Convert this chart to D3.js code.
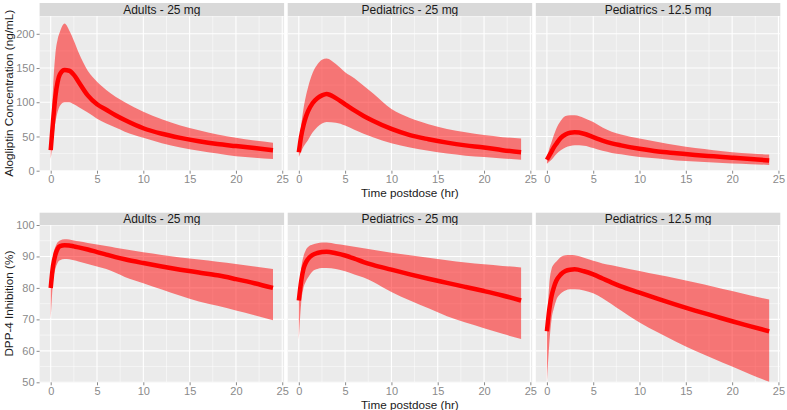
<!DOCTYPE html>
<html><head><meta charset="utf-8">
<script src="https://cdn.jsdelivr.net/npm/d3@7"></script>
<style>body{margin:0;background:#fff}svg{display:block}</style>
</head><body>
<svg id="c" width="787" height="410"></svg>
<script>
const times = [0,0.25,0.5,0.75,1,1.5,2,2.5,3,4,5,6,7,8,10,12,14,16,18,20,22,24];
const panelTitles = ["Adults - 25 mg","Pediatrics - 25 mg","Pediatrics - 12.5 mg"];
const xTicks = [0,5,10,15,20,25];
const concTicks = [0,50,100,150,200];
const inhTicks = [50,60,70,80,90,100];

// Alogliptin concentration (ng/mL)
const concAdult25Med = [30,72,108,130,141,147,146,140,130,110,97,89,81,74,62,54,48,43,39,36,33,30];
const concAdult25Hi  = [35,120,170,192,203,215,205,190,173,146,130,118,108,100,86,75,66,59,53,48,44,41];
const concAdult25Lo  = [17,45,70,86,95,100,100,97,93,85,76,69,63,57,48,40,34,29,25,21,19,17];
const concPed25Med = [27,50,66,78,87,99,106,110,112,106,97,88,80,73,61,52,46,41,37,34,30,27];
const concPed25Hi  = [30,65,90,108,122,143,155,162,164,156,144,135,124,113,90,77,68,61,56,52,49,47];
const concPed25Lo  = [20,28,35,40,45,56,64,69,71,70,66,60,54,49,40,34,29,25,22,20,18,16];
const concPed125Med = [16,22,28,34,39,48,53,55.5,56,54,49,44,40,37,32,28,25.5,23,21,19,17,15];
const concPed125Hi  = [18,32,42,52,61,73,80,81,81,77,71,63,57,53,47,42,37,33,30,27,25,23.5];
const concPed125Lo  = [10,13,16,20,24,30,34,36,37,36.5,33,29,26,24,20,18,15,13.5,12,10.5,9.5,8.5];

// DPP-4 inhibition (%)
const inhAdult25Med = [80,87,90.5,92.5,93.3,93.6,93.5,93.2,92.9,92.2,91.4,90.6,89.8,89.1,87.9,86.8,85.8,84.9,84,82.8,81.5,80];
const inhAdult25Hi  = [81,90,93,94.5,95.1,95.5,95.4,95.1,94.8,94.3,93.8,93.3,92.8,92.3,91.3,90.5,89.7,89,88.3,87.6,86.8,86];
const inhAdult25Lo  = [70,82,86,88,88.8,89.2,89.1,88.8,88.4,87.6,86.8,86,84.8,83.5,81.5,79.5,77.5,75.7,74.3,72.8,71.3,69.7];
const inhPed25Med = [76,82,86,88,89.2,90.5,91.1,91.4,91.5,91,90.3,89.3,88.2,87.3,85.8,84.3,82.9,81.6,80.3,79,77.6,76];
const inhPed25Hi  = [77,86,90,92,93,93.8,94.2,94.4,94.4,94,93.6,93.1,92.6,92.1,91.2,90.4,89.6,88.8,88.1,87.5,87,86.5];
const inhPed25Lo  = [63.5,75,80,82,83.3,85.3,86,86.3,86.3,86,85.3,84.3,83.3,82,78.7,76,73.5,71,69,67.2,65.4,63.8];
const inhPed125Med = [66.2,73,77.4,80.2,82.2,84.3,85.4,85.8,85.9,85.3,84.3,83,81.7,80.5,78.5,76.5,74.6,72.8,71.1,69.4,67.8,66.2];
const inhPed125Hi  = [68,81,86,87.5,88.3,89.8,90.4,90.5,90.4,89.6,88.6,87.8,87.2,86.6,85.4,84.2,83,81.7,80.4,79,77.6,76.3];
const inhPed125Lo  = [50,62,70,73.5,76,78.2,79.2,79.6,79.6,79.2,78.3,76.7,74.8,72.8,69,65.8,62.8,60,57.5,55,52.5,50.2];

const rows = [
  {title:"Alogliptin Concentration (ng/mL)", domain:[0,226], ticks:concTicks, minor:[25,75,125,175,225],
   stripTop:3, top:16, bottom:170.7,
   series:[[concAdult25Med,concAdult25Hi,concAdult25Lo],[concPed25Med,concPed25Hi,concPed25Lo],[concPed125Med,concPed125Hi,concPed125Lo]]},
  {title:"DPP-4 Inhibition (%)", domain:[50,100], ticks:inhTicks, minor:[55,65,75,85,95],
   stripTop:212.7, top:225, bottom:382.3,
   series:[[inhAdult25Med,inhAdult25Hi,inhAdult25Lo],[inhPed25Med,inhPed25Hi,inhPed25Lo],[inhPed125Med,inhPed125Hi,inhPed125Lo]]}
];

const svg = d3.select("#c");
const font = "'Liberation Sans', Arial, sans-serif";
const left0 = 39.6, pw = 244.5, gap = 3.6;
const xMinor = [2.5,7.5,12.5,17.5,22.5];

rows.forEach((row, ri) => {
  const y = d3.scaleLinear().domain(row.domain).range([row.bottom, row.top]);
  row.series.forEach((s, pi) => {
    const x0 = left0 + pi*(pw+gap);
    const x = d3.scaleLinear().domain([-1.2, 25.2]).range([x0, x0+pw]);
    const g = svg.append("g");
    g.append("rect").attr("x",x0).attr("y",row.stripTop).attr("width",pw).attr("height",row.top-row.stripTop).attr("fill","#D9D9D9");
    g.append("text").attr("x",x0+pw/2).attr("y",(row.stripTop+row.top)/2).attr("dy","0.36em")
      .attr("text-anchor","middle").attr("font-family",font).attr("font-size",12).attr("fill","#1A1A1A").text(panelTitles[pi]);
    g.append("rect").attr("x",x0).attr("y",row.top).attr("width",pw).attr("height",row.bottom-row.top).attr("fill","#EBEBEB");
    const clipId = `clip${ri}${pi}`;
    svg.append("clipPath").attr("id",clipId).append("rect").attr("x",x0).attr("y",row.top).attr("width",pw).attr("height",row.bottom-row.top);
    const pg = g.append("g").attr("clip-path",`url(#${clipId})`);
    xMinor.forEach(v => pg.append("line").attr("x1",x(v)).attr("x2",x(v)).attr("y1",row.top).attr("y2",row.bottom).attr("stroke","#fff").attr("stroke-width",0.5));
    row.minor.forEach(v => pg.append("line").attr("x1",x0).attr("x2",x0+pw).attr("y1",y(v)).attr("y2",y(v)).attr("stroke","#fff").attr("stroke-width",0.5));
    xTicks.forEach(v => pg.append("line").attr("x1",x(v)).attr("x2",x(v)).attr("y1",row.top).attr("y2",row.bottom).attr("stroke","#fff").attr("stroke-width",1.1));
    row.ticks.forEach(v => pg.append("line").attr("x1",x0).attr("x2",x0+pw).attr("y1",y(v)).attr("y2",y(v)).attr("stroke","#fff").attr("stroke-width",1.1));
    const data = times.map((t,i)=>({t, m:s[0][i], hi:s[1][i], lo:s[2][i]}));
    const area = d3.area().x(d=>x(d.t)).y0(d=>y(d.lo)).y1(d=>y(d.hi)).curve(d3.curveMonotoneX);
    pg.append("path").attr("d",area(data)).attr("fill","#FF0000").attr("fill-opacity",0.5);
    const line = d3.line().x(d=>x(d.t)).y(d=>y(d.m)).curve(d3.curveMonotoneX);
    pg.append("path").attr("d",line(data)).attr("fill","none").attr("stroke","#FF0000").attr("stroke-width",4.5).attr("stroke-linejoin","round");
    const xa = g.append("g").attr("transform",`translate(0,${row.bottom})`)
      .call(d3.axisBottom(x).tickValues(xTicks).tickSize(3).tickPadding(2).tickFormat(d3.format("d")));
    xa.select(".domain").remove();
    xa.selectAll("line").attr("stroke","#8A8A8A");
    xa.selectAll("text").attr("font-family",font).attr("font-size",11).attr("fill","#8A8A8A");
    if (pi === 0) {
      const ya = g.append("g").attr("transform",`translate(${x0},0)`)
        .call(d3.axisLeft(y).tickValues(row.ticks).tickSize(3).tickPadding(2).tickFormat(d3.format("d")));
      ya.select(".domain").remove();
      ya.selectAll("line").attr("stroke","#8A8A8A");
      ya.selectAll("text").attr("font-family",font).attr("font-size",11).attr("fill","#8A8A8A");
    }
  });
  const cy = (row.top+row.bottom)/2;
  svg.append("text").attr("transform",`translate(9,${cy}) rotate(-90)`).attr("dy","0.36em")
    .attr("text-anchor","middle").attr("font-family",font).attr("font-size",11.7).attr("fill","#1A1A1A").text(row.title);
  svg.append("text").attr("x",(left0 + left0+3*pw+2*gap)/2).attr("y",row.bottom+22).attr("dy","0.36em")
    .attr("text-anchor","middle").attr("font-family",font).attr("font-size",11.7).attr("fill","#1A1A1A").text("Time postdose (hr)");
});
</script>
</body></html>
